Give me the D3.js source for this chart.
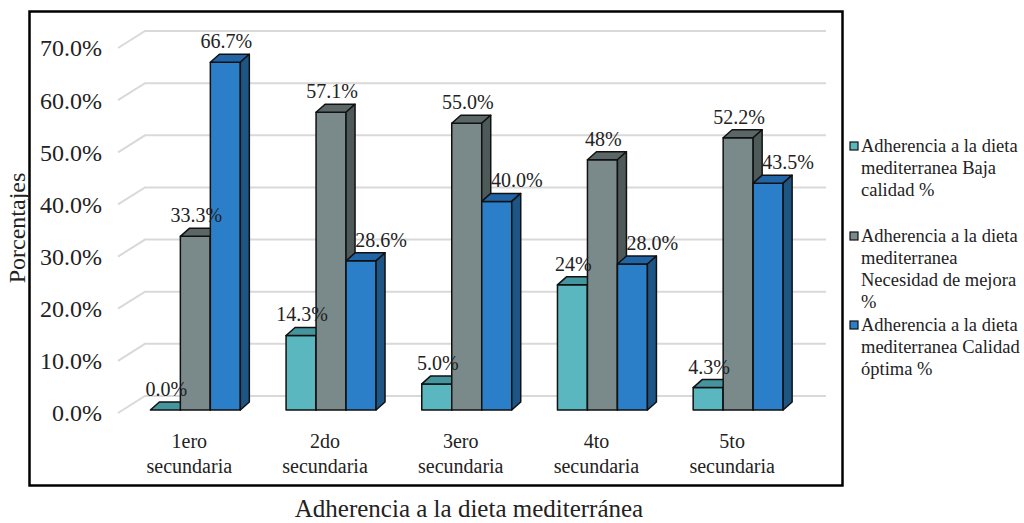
<!DOCTYPE html>
<html>
<head>
<meta charset="utf-8">
<script src="https://cdn.jsdelivr.net/npm/d3@7"></script>
<style>
  body { margin: 0; background: #fff; }
  text { font-family: "Liberation Serif", "Times New Roman", serif; fill: #222; }
</style>
</head>
<body>
<svg id="chart" width="1024" height="523"></svg>
<script>
// data
const categories = ["1ero secundaria", "2do secundaria", "3ero secundaria", "4to secundaria", "5to secundaria"];
const seriesNames = ["Baja", "Mejora", "Optima"];
const bajaValues = [0.0, 14.3, 5.0, 24, 4.3];
const mejoraValues = [33.3, 57.1, 55.0, 48, 52.2];
const optimaValues = [66.7, 28.6, 40.0, 28.0, 43.5];
const bajaLabels = ["0.0%", "14.3%", "5.0%", "24%", "4.3%"];
const mejoraLabels = ["33.3%", "57.1%", "55.0%", "48%", "52.2%"];
const optimaLabels = ["66.7%", "28.6%", "40.0%", "28.0%", "43.5%"];
const yTicks = [0, 10, 20, 30, 40, 50, 60, 70];
const legendLines = [
  ["Adherencia a la dieta", "mediterranea Baja", "calidad %"],
  ["Adherencia a la dieta", "mediterranea", "Necesidad de mejora", "%"],
  ["Adherencia a la dieta", "mediterranea Calidad", "óptima %"]
];

const colors = {
  Baja:   { front: "#5BB7BF", top: "#44959D", side: "#3A8088" },
  Mejora: { front: "#7A8A8A", top: "#5B6766", side: "#4E5A59" },
  Optima: { front: "#2B7FC8", top: "#2265A6", side: "#1D5584" }
};

const values = { Baja: bajaValues, Mejora: mejoraValues, Optima: optimaValues };
const labels = { Baja: bajaLabels, Mejora: mejoraLabels, Optima: optimaLabels };

const svg = d3.select("#chart");

// outer frame
svg.append("rect")
  .attr("x", 29.5).attr("y", 11.5)
  .attr("width", 813).attr("height", 474)
  .attr("fill", "none").attr("stroke", "#000").attr("stroke-width", 2.5);

const y = d3.scaleLinear().domain([0, 70]).range([410, 45]);
const x = d3.scaleBand().domain(categories).range([127.5, 806])
  .paddingInner(0.337).paddingOuter(0.1685);
const xs = d3.scaleBand().domain(seriesNames).range([0, x.bandwidth()]);

// walls: side + back gridlines
const g = svg.append("g");
g.selectAll(".grid")
  .data(yTicks)
  .enter().append("path")
  .attr("class", "grid")
  .attr("d", d => "M118," + (y(d) + 3) + " L145," + (y(d) - 14) + " H826")
  .attr("fill", "none")
  .attr("stroke", "#D9D9D9")
  .attr("stroke-width", 2);

// y tick labels
svg.selectAll(".ytick")
  .data(yTicks)
  .enter().append("text")
  .attr("class", "ytick")
  .attr("x", 102)
  .attr("y", d => y(d) + 3)
  .attr("dy", "0.35em")
  .attr("text-anchor", "end")
  .style("font-size", "24px")
  .text(d => d3.format(".1%")(d / 100));

// 3d bars
const dx = 9, dy = -8;
const bars = [];
categories.forEach((c, i) => {
  seriesNames.forEach((s, j) => {
    const prev = j > 0 ? values[seriesNames[j - 1]][i] : -1;
    bars.push({ cat: c, s: s, v: values[s][i], label: labels[s][i], shifted: prev > values[s][i] && j == 2 });
  });
});

const barG = svg.append("g");
bars.forEach(b => {
  const x0 = x(b.cat) + xs(b.s);
  const w = xs.bandwidth();
  const yt = y(b.v), yb = y(0);
  const col = colors[b.s];
  const bg = barG.append("g").attr("stroke", "#111").attr("stroke-width", 1.5).attr("stroke-linejoin", "round");
  bg.append("rect")
    .attr("x", x0).attr("y", yt)
    .attr("width", w).attr("height", yb - yt)
    .attr("fill", col.front);
  bg.append("polygon")
    .attr("points", [[x0, yt], [x0 + dx, yt + dy], [x0 + w + dx, yt + dy], [x0 + w, yt]].join(" "))
    .attr("fill", col.top);
  bg.append("polygon")
    .attr("points", [[x0 + w, yt], [x0 + w + dx, yt + dy], [x0 + w + dx, yb + dy], [x0 + w, yb]].join(" "))
    .attr("fill", col.side);
});

// data labels (the ones next to a taller neighbour sit a bit to the right)
svg.selectAll(".dlabel")
  .data(bars)
  .enter().append("text")
  .attr("class", "dlabel")
  .attr("x", d => x(d.cat) + xs(d.s) + xs.bandwidth() / 2 + (d.shifted ? 20 : 1))
  .attr("y", d => y(d.v) - 14)
  .attr("text-anchor", "middle")
  .style("font-size", "20px")
  .text(d => d.label);

// category labels
const catText = svg.selectAll(".cat")
  .data(categories)
  .enter().append("text")
  .attr("class", "cat")
  .attr("text-anchor", "middle")
  .style("font-size", "20px");
catText.selectAll("tspan")
  .data(d => d.split(" ").map(t => ({ t: t, c: d })))
  .enter().append("tspan")
  .attr("x", d => x(d.c) + x.bandwidth() / 2 - 6)
  .attr("y", (d, i) => 448 + i * 25)
  .text(d => d.t);

// axis titles
svg.append("text")
  .attr("transform", "translate(25,228) rotate(-90)")
  .attr("text-anchor", "middle")
  .style("font-size", "24px")
  .text("Porcentajes");

svg.append("text")
  .attr("x", 469).attr("y", 517)
  .attr("text-anchor", "middle")
  .style("font-size", "25px")
  .text("Adherencia a la dieta mediterránea");

// legend
const legendTop = [146, 236, 325];
const legend = svg.selectAll(".legend")
  .data(seriesNames)
  .enter().append("g")
  .attr("class", "legend")
  .attr("transform", (d, i) => "translate(850," + legendTop[i] + ")");
legend.append("rect")
  .attr("x", 0).attr("y", -4)
  .attr("width", 8).attr("height", 8)
  .attr("fill", d => colors[d].front)
  .attr("stroke", "#111").attr("stroke-width", 1.2);
legend.append("text")
  .style("font-size", "18.5px")
  .selectAll("tspan")
  .data((d, i) => legendLines[i])
  .enter().append("tspan")
  .attr("x", 11)
  .attr("y", (d, i) => 6 + i * 22)
  .text(d => d);
</script>
</body>
</html>
